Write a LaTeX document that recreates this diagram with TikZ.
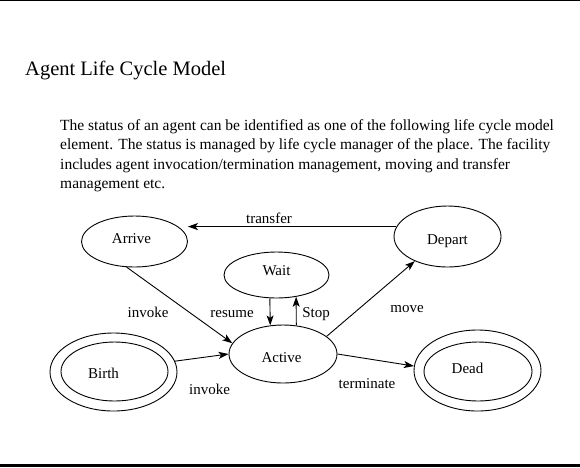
\documentclass[tikz,border=0pt]{standalone}
\usepackage{fontspec}
\setmainfont{Liberation Serif}
\usetikzlibrary{shapes.geometric,arrows.meta}
\begin{document}
\begin{tikzpicture}[x=1pt,y=-1pt,
  state/.style={draw,ellipse,line width=0.9pt,inner sep=0pt,text height=10pt,text depth=0pt,font=\fontsize{15}{18}\selectfont},
  ring/.style={draw,ellipse,line width=0.9pt,inner sep=0pt},
  lbl/.style={anchor=base,inner sep=0pt,font=\fontsize{15}{18}\selectfont},
  arr/.style={line width=0.9pt,-{Stealth[length=10pt,width=7pt,inset=2.5pt]}},
  para/.style={anchor=base west,inner sep=0pt,font=\fontsize{15.5}{19}\selectfont}]
\useasboundingbox (0,0) rectangle (580,467);
\draw[line width=1.4pt] (0,0.7) -- (580,0.7);
\fill (0,463.5) rectangle (580,467);
\node[anchor=base west,inner sep=0pt,font=\fontsize{20.5}{24}\selectfont] (title) at (25,75) {Agent Life Cycle Model};
\node[para] (p1) at (60,130) {The status of an agent can be identified as one of the following life cycle model};
\node[para] (p2) at (60,149.5) {element. The status is managed by life cycle manager of the place. The facility};
\node[para] (p3) at (60,169) {includes agent invocation/termination management, moving and transfer};
\node[para] (p4) at (60,188) {management etc.};
% states
\node[state,minimum width=106,minimum height=51] (arrive) at (134.5,241.5) {\kern-6pt\raisebox{3pt}{Arrive}};
\node[state,minimum width=105,minimum height=46] (wait) at (276.5,275) {\raisebox{4.5pt}{Wait}};
\node[state,minimum width=108,minimum height=58] (active) at (283,354) {\kern-3pt\raisebox{-3pt}{Active}};
\node[state,minimum width=107,minimum height=61] (depart) at (447.5,236.5) {\raisebox{-2.5pt}{Depart}};
\node[state,minimum width=127,minimum height=78] (birth) at (113.5,372) {\kern-20pt\raisebox{-1pt}{Birth}};
\node[ring,minimum width=107,minimum height=59] (birthin) at (114.5,371.5) {};
\node[state,minimum width=127,minimum height=81] (dead) at (477.5,370.5) {\kern-20pt\raisebox{2.5pt}{Dead}};
\node[ring,minimum width=108,minimum height=59] (deadin) at (478,371.5) {};
% connectors
\draw[arr] (depart.169.4) -- (arrive.east |- depart.169.4);
\draw[arr] (arrive.253.6) -- (active.168.7);
\draw[arr] (birth.10.2) -- (active.180);
\draw[arr] (wait.254.1) -- (active.114.8);
\draw[arr] (active.65.2) -- (wait.312.4);
\draw[arr] (active.22.2) -- (depart.217.8);
\draw[arr] (active.east) -- (dead.176);
% labels
\node[lbl] (ltransfer) at (269,223) {transfer};
\node[lbl] (linvoke1) at (148,317) {invoke};
\node[lbl] (lresume) at (232,317) {resume};
\node[lbl] (lstop) at (316,317) {Stop};
\node[lbl] (lmove) at (407,312) {move};
\node[lbl] (linvoke2) at (209.5,394) {invoke};
\node[lbl] (lterminate) at (367,388) {terminate};
\end{tikzpicture}
\end{document}
